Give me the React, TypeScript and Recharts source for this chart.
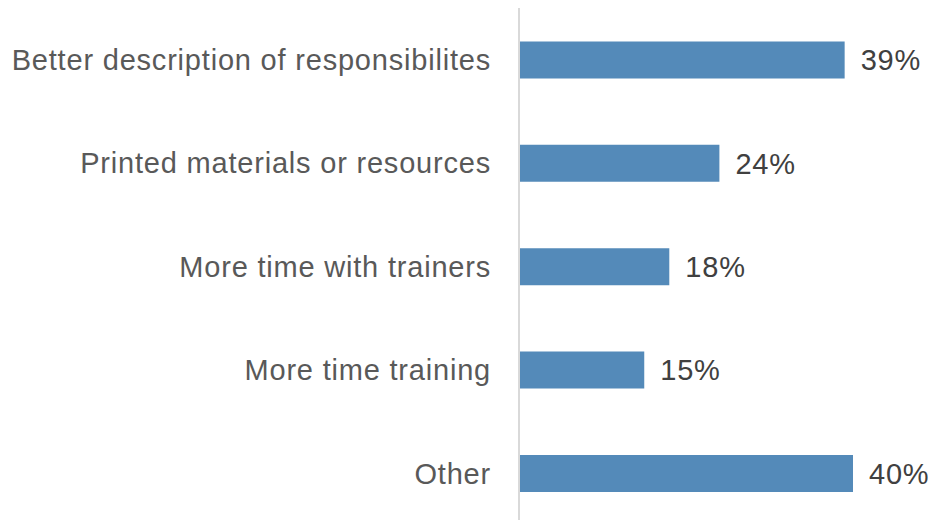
import { BarChart, Bar, XAxis, YAxis, LabelList } from 'recharts';

const categories = [
  'Better description of responsibilites',
  'Printed materials or resources',
  'More time with trainers',
  'More time training',
  'Other',
];
const shares = [39, 24, 18, 15, 40];

const data = categories.map((name, i) => ({ name, value: shares[i] }));

const FONT = '"Liberation Sans", Arial, sans-serif';

export default function App() {
  return (
    <div style={{ position: 'absolute', top: 0, left: 0, background: '#fff' }}>
      <BarChart
        width={932}
        height={525}
        data={data}
        layout="vertical"
        margin={{ top: 8, right: 79, bottom: 0, left: 0 }}
        barCategoryGap="32.3%"
      >
        <XAxis type="number" domain={[0, 40]} hide />
        <YAxis
          type="category"
          dataKey="name"
          width={519}
          tickLine={false}
          tickSize={0}
          tickMargin={28}
          axisLine={{ stroke: '#d9d9d9', strokeWidth: 2 }}
          tick={{ fill: '#595959', fontSize: 29, fontFamily: FONT, letterSpacing: 0.8 }}
          interval={0}
        />
        <Bar dataKey="value" fill="#548ab9" isAnimationActive={false}>
          <LabelList
            dataKey="value"
            position="right"
            offset={16}
            formatter={(v: any) => `${v}%`}
            style={{ fill: '#404040', fontSize: 29, fontFamily: FONT, letterSpacing: 0.8 }}
          />
        </Bar>
      </BarChart>
    </div>
  );
}
